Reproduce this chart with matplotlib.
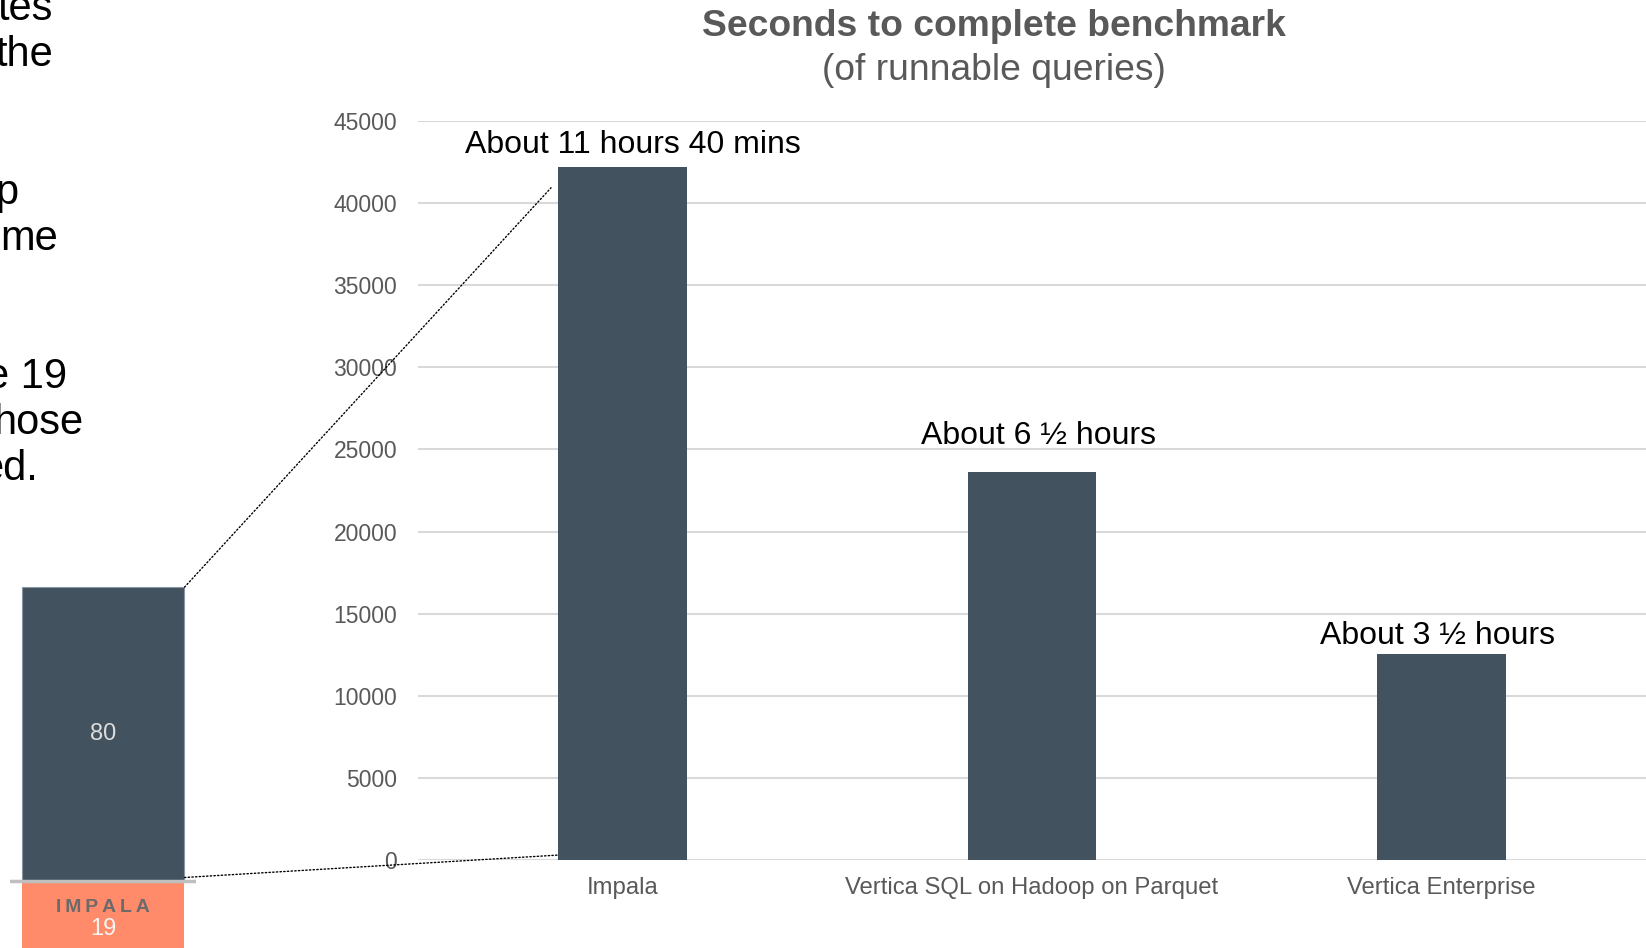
import matplotlib
matplotlib.use('Agg')
import matplotlib.pyplot as plt
from matplotlib.patches import ConnectionPatch

plt.rcParams['font.family'] = ['Liberation Sans', 'DejaVu Sans']

# main chart data
categories = ['Impala', 'Vertica SQL on Hadoop on Parquet', 'Vertica Enterprise']
seconds = [42200, 23650, 12560]
labels = ['About 11 hours 40 mins', 'About 6 \u00bd hours', 'About 3 \u00bd hours']
label_offsets = [(7, 16), (5, 26), (-3, 13)]  # points, (x, y)

# the small stacked bar on the left (queries)
side_cat = ['IMPALA']
runnable = [19]
not_runnable = [80]

# leftover slide text, cut off at the left edge
side_text = ['tes', 'the', 'p', 'me', 'e 19', 'hose', 'ed.']
side_right = [53, 53, 18, 58, 67, 83, 38]      # px
side_base = [20, 66, 204, 250, 388, 434, 480]  # px

W, H = 1646, 948
dark = '#42535F'
grey = '#595959'

fig = plt.figure(figsize=(W / 100, H / 100), dpi=100, facecolor='white')

# ---- main bar chart
ax = fig.add_axes([418 / W, 1 - 860 / H, 1 - 418 / W, (860 - 121) / H])
x = range(len(categories))
ax.bar(x, seconds, width=0.315, color=dark, zorder=2)
ax.set_xlim(-0.5, 2.5)
ax.set_ylim(0, 45000)
ax.set_yticks(range(0, 45001, 5000))
ax.set_xticks(list(x))
ax.set_xticklabels(categories)
ax.yaxis.grid(True, color='#d9d9d9', lw=1.5)
ax.set_axisbelow(True)
for s in ax.spines.values():
    s.set_visible(False)
ax.tick_params(axis='y', length=0, pad=15, labelsize=16.5, labelcolor=grey)
ax.tick_params(axis='x', length=0, pad=12, labelsize=17.2, labelcolor=grey)

for i, (v, lab) in enumerate(zip(seconds, labels)):
    ax.annotate(lab, (i, v), xytext=label_offsets[i], textcoords='offset points',
                ha='center', va='center', fontsize=23, color='black')

fig.text(994 / W, 1 - 27 / H, 'Seconds to complete benchmark', ha='center', va='center',
         fontsize=26.8, fontweight='bold', color=grey)
fig.text(994 / W, 1 - 70 / H, '(of runnable queries)', ha='center', va='center',
         fontsize=26.8, color=grey)

# ---- left stacked bar
px_per_unit = 3.675
ax2_h = 448
ymin = 3 / px_per_unit
ax2 = fig.add_axes([10 / W, 0, 186 / W, ax2_h / H])
bw = 163 / 186
ax2.bar(side_cat, runnable, width=bw, color='#FF8B6A', zorder=1)
ax2.bar(side_cat, not_runnable, bottom=runnable, width=bw, color=dark,
        edgecolor='#8a97a3', lw=0.8, zorder=1)
ax2.axhline(runnable[0], color='#bfbfbf', lw=2.5, zorder=3)
ax2.set_xlim(-0.5, 0.5)
ax2.set_ylim(ymin, ymin + ax2_h / px_per_unit)
ax2.axis('off')
ax2.text(0, runnable[0] + not_runnable[0] / 2, str(not_runnable[0]), ha='center', va='center',
         fontsize=17, color='#dcdcdc')
ax2.text(0, runnable[0] * 0.63, '\u2009'.join(side_cat[0]), ha='center', va='center',
         fontsize=14, fontweight='bold', color='#6b6b6b')
ax2.text(0, runnable[0] * 0.32, str(runnable[0]), ha='center', va='center', fontsize=17,
         color='#f4f4f4')

# dotted zoom lines
top = runnable[0] + not_runnable[0]
for a, b in [((bw / 2, top), (-0.175, seconds[0] * 0.97)),
             ((bw / 2, runnable[0] + 1), (-0.1575, 300))]:
    con = ConnectionPatch(xyA=a, coordsA=ax2.transData, xyB=b, coordsB=ax.transData,
                          ls=':', lw=1, color='black', zorder=5)
    fig.add_artist(con)

# cut off slide text
for t, xr, yb in zip(side_text, side_right, side_base):
    fig.text(xr / W, 1 - yb / H, t, ha='right', va='baseline', fontsize=30, color='black')

fig.savefig('out.png', dpi=100, facecolor='white')
